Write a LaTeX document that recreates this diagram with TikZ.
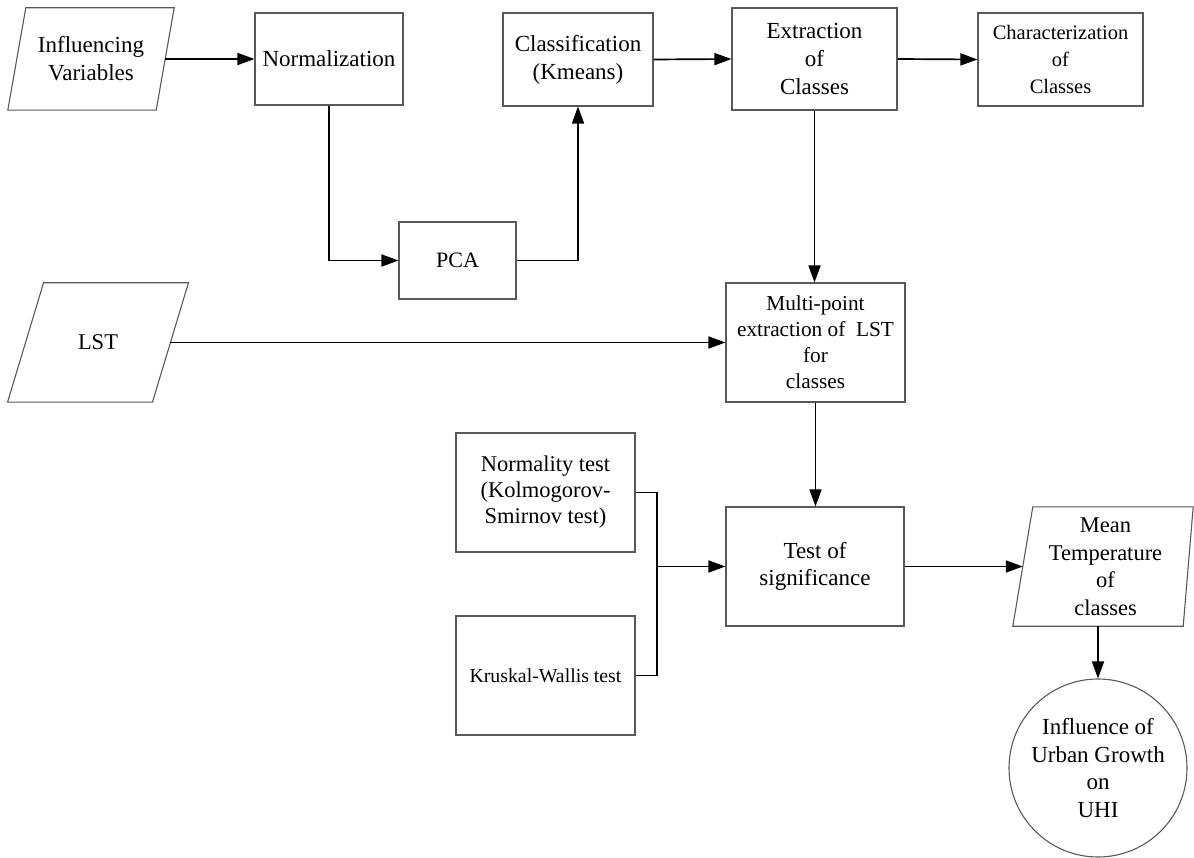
\documentclass[tikz,border=0pt]{standalone}
\usepackage{fontspec}
\setmainfont{Liberation Serif}
\usetikzlibrary{arrows.meta,calc}

\tikzset{
  boxline/.style={draw=black!65, line width=1.1pt},
  procbox/.style={rectangle, boxline, align=center, inner sep=2pt,
    font=\fontsize{23}{28}\selectfont},
  databox/.style={rectangle, draw=none, align=center, inner sep=2pt,
    font=\fontsize{23}{28}\selectfont},
  endbox/.style={circle, boxline, align=center, inner sep=0pt,
    font=\fontsize{23}{27.5}\selectfont},
  flow/.style={draw=black, line width=1.7pt},
  arr/.style={flow, -{Triangle[length=17pt,width=12pt]}},
}

% parallelogram outline around a data node: top corners shifted by #2 and #3, bottom by -#2 and -#4
\newcommand\dataoutline[4]{%
  \draw[boxline] ($(#1.north west)+(#2,0)$) -- ($(#1.north east)+(#3,0)$)
    -- ($(#1.south east)+(-#4,0)$) -- ($(#1.south west)+(-#2,0)$) -- cycle;}

\begin{document}
\begin{tikzpicture}[x=1pt,y=-1pt]
\useasboundingbox (0,0) rectangle (1194,858);

% top row
\node[databox, minimum width=148pt, minimum height=102pt] (infl) at (91,59) {Influencing\\Variables};
\dataoutline{infl}{9}{9}{9}
\node[procbox, minimum width=148pt, minimum height=92pt] (norm) at (329,59) {Normalization};
\node[procbox, minimum width=150pt, minimum height=93pt] (cls) at (578,59.5) {Classification\\(Kmeans)};
\node[procbox, minimum width=165pt, minimum height=102pt] (ext) at (814.5,59) {Extraction\\of\\Classes};
\node[procbox, minimum width=165pt, minimum height=93pt,
      font=\fontsize{20.5}{27}\selectfont] (chr) at (1060.5,59.5) {Characterization\\of\\Classes};

% principal components
\node[procbox, minimum width=117pt, minimum height=77pt, font=\fontsize{22}{26}\selectfont] (pca) at (457.5,260.5) {PCA};

% land surface temperature
\node[databox, minimum width=144.5pt, minimum height=119pt, font=\fontsize{22.5}{27}\selectfont] (lst) at (98,342.5) {LST};
\dataoutline{lst}{18}{18}{18}
\node[procbox, minimum width=179pt, minimum height=119pt,
      font=\fontsize{21.3}{26}\selectfont] (mp) at (815.5,342.5) {Multi-point\\extraction of\ \ LST\\for\\classes};

% statistical tests
\node[procbox, minimum width=179pt, minimum height=119pt,
      font=\fontsize{22.5}{26}\selectfont] (nt) at (545.5,492.5) {Normality test\\(Kolmogorov-\\Smirnov test)};
\node[procbox, minimum width=179pt, minimum height=119pt,
      font=\fontsize{19.8}{24}\selectfont] (kw) at (545.5,675.5) {Kruskal-Wallis test};
\node[procbox, minimum width=178pt, minimum height=119pt,
      font=\fontsize{23}{27}\selectfont] (test) at (815,566.5) {Test of\\significance};

% results
\node[databox, minimum width=165pt, minimum height=119pt,
      font=\fontsize{22.5}{27.5}\selectfont] (mean) at (1105.5,566.5) {Mean\\Temperature\\of\\classes};
\dataoutline{mean}{10}{5}{5}
\node[endbox, minimum size=178pt] (uhi) at (1098,768) {Influence of\\Urban Growth\\on\\UHI};

\coordinate (jn) at (657,566.5);

% connectors
\draw[arr] (infl.east) -- (norm.west);
\draw[arr] (norm.south) |- (pca.west);
\draw[arr] (pca.east) -| (cls.south);
\draw[arr] (cls.east) -- (ext.west);
\draw[arr] (ext.east) -- (chr.west);
\draw[arr] (ext.south) -- (ext.south |- mp.north);
\draw[arr] (lst.east) -- (mp.west);
\draw[arr] (mp.south) -- (mp.south |- test.north);
\draw[flow] (nt.east) -| (jn) |- (kw.east);
\draw[arr] (jn) -- (test.west);
\draw[arr] (test.east) -- (mean.west);
\draw[arr] (mean.south -| uhi.north) -- (uhi.north);
\end{tikzpicture}
\end{document}
